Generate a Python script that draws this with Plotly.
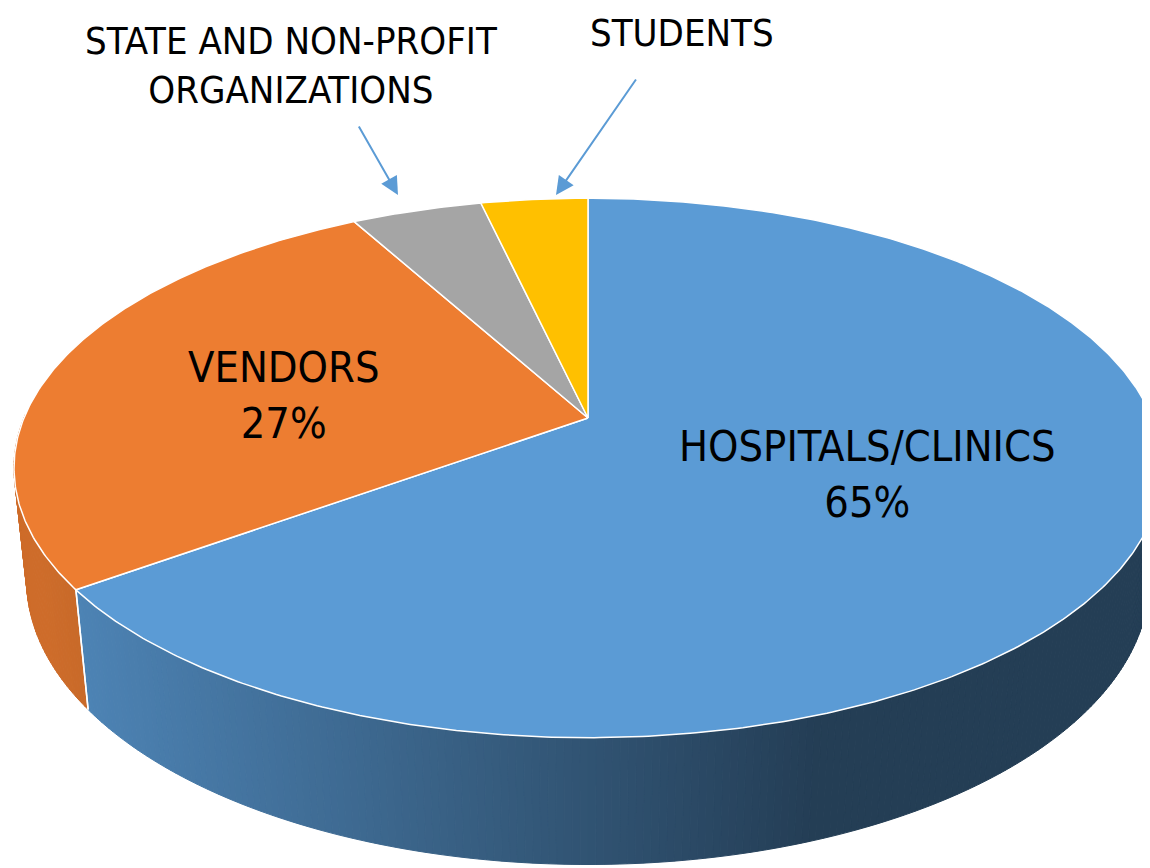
import numpy as np
import plotly.graph_objects as go

# ---------------- data ----------------
categories = ["HOSPITALS/CLINICS", "VENDORS", "STATE AND NON-PROFIT ORGANIZATIONS", "STUDENTS"]
values = [65.0, 27.0, 4.4, 3.6]
top_colors = ["#5b9bd5", "#ed7d31", "#a5a5a5", "#ffc000"]

# ---------------- view / styling ----------------
W, H = 1150, 868
OFF = 8                         # page body margin of the browser
CX, CY = 588.0, 418.0           # screen position of pie centre
TILT = np.radians(27.5)         # camera elevation
DIST = 4.79                     # camera distance (pie radius = 1)
SCALE = 2702.0
THICK = 0.226                   # pie thickness (pie radius = 1)
FONT = "Liberation Sans Narrow, Arial Narrow, DejaVu Sans Condensed, Lato, sans-serif"


def project(X, Y, Z):
    c, s = np.cos(TILT), np.sin(TILT)
    py = Y + DIST * c
    pz = Z - DIST * s
    depth = py * c - pz * s
    up = py * s + pz * c
    return CX + SCALE * X / depth, CY - SCALE * up / depth, depth


def hex_rgb(h):
    h = h.lstrip("#")
    return tuple(int(h[i:i + 2], 16) for i in (0, 2, 4))


def shade(color, sx):
    f0, f1 = 0.87, 0.40
    t = np.clip((sx - 40.0) / (820.0 - 40.0), 0, 1)
    f = f0 + (f1 - f0) * t
    r, g, b = hex_rgb(color)
    return f"rgb({int(r * f)},{int(g * f)},{int(b * f)})"


fig = go.Figure()

# slice angle ranges (start at 12 o'clock, clockwise)
ranges = []
cum = 0.0
total = sum(values)
for v in values:
    t0 = 90.0 - cum / total * 360.0
    t1 = t0 - v / total * 360.0
    ranges.append((t0, t1))
    cum += v

# ---------------- side wall ----------------
quads = []
for (t0, t1), col in zip(ranges, top_colors):
    n = max(2, int(abs(t0 - t1) * 1.5))
    ts = np.linspace(t0, t1, n + 1)
    for a, b in zip(ts[:-1], ts[1:]):
        m = np.radians((a + b) / 2)
        if np.sin(m) >= 0.02:
            continue
        ra, rb = np.radians(a), np.radians(b)
        xa, ya, da = project(np.cos(ra), np.sin(ra), 0)
        xb, yb, db = project(np.cos(rb), np.sin(rb), 0)
        xbb, ybb, _ = project(np.cos(rb), np.sin(rb), -THICK)
        xab, yab, _ = project(np.cos(ra), np.sin(ra), -THICK)
        quads.append(((da + db) / 2, [xa, xb, xbb, xab, xa], [ya, yb, ybb, yab, ya],
                      shade(col, (xa + xb) / 2)))

quads.sort(key=lambda q: -q[0])
for _, xs, ys, c in quads:
    fig.add_trace(go.Scatter(x=xs, y=ys, mode="lines", fill="toself", fillcolor=c,
                             line=dict(color=c, width=1), hoverinfo="skip", showlegend=False))

# white vertical edges at visible slice boundaries
for t0, t1 in ranges:
    for t in (t0, t1):
        r = np.radians(t)
        if np.sin(r) < -0.3:
            x0, y0, _ = project(np.cos(r), np.sin(r), 0)
            x1, y1, _ = project(np.cos(r), np.sin(r), -THICK)
            fig.add_trace(go.Scatter(x=[x0, x1], y=[y0, y1], mode="lines",
                                     line=dict(color="white", width=1.5),
                                     hoverinfo="skip", showlegend=False))

# ---------------- top face ----------------
for (t0, t1), col, cat, v in zip(ranges, top_colors, categories, values):
    n = max(8, int(abs(t0 - t1) * 2))
    ts = np.radians(np.linspace(t0, t1, n + 1))
    px, py, _ = project(np.cos(ts), np.sin(ts), 0 * ts)
    ox, oy, _ = project(0.0, 0.0, 0.0)
    xs = np.concatenate([[ox], px, [ox]])
    ys = np.concatenate([[oy], py, [oy]])
    fig.add_trace(go.Scatter(x=xs, y=ys, mode="lines", fill="toself", fillcolor=col,
                             line=dict(color="white", width=1.5),
                             name=cat, hoveron="fills",
                             text=f"{cat}: {v:g}%", hoverinfo="text", showlegend=False))

# ---------------- labels ----------------
annotations = [
    dict(x=867, y=474, text="HOSPITALS/CLINICS<br>65%", size=43),
    dict(x=284, y=395, text="VENDORS<br>27%", size=43),
    dict(x=291, y=65, text="STATE AND NON-PROFIT<br>ORGANIZATIONS", size=38),
    dict(x=682, y=33, text="STUDENTS", size=38),
]
anns = []
for a in annotations:
    anns.append(dict(x=a["x"], y=a["y"], xref="x", yref="y", text=a["text"], showarrow=False,
                     xanchor="center", yanchor="middle", align="center",
                     font=dict(family=FONT, color="black", size=a["size"])))

arrows = [((358, 125), (398, 195)), ((637, 78), (556, 195))]
for (sx, sy), (ex, ey) in arrows:
    anns.append(dict(x=ex, y=ey, ax=sx, ay=sy, xref="x", yref="y", axref="x", ayref="y",
                     text="", showarrow=True, arrowhead=2, arrowsize=1.8, arrowwidth=2,
                     arrowcolor="#5b9bd5", standoff=0))

fig.update_layout(
    width=W, height=H,
    margin=dict(l=0, r=0, t=0, b=0),
    paper_bgcolor="white", plot_bgcolor="white",
    xaxis=dict(range=[OFF, W + OFF], visible=False, fixedrange=True),
    yaxis=dict(range=[H + OFF, OFF], visible=False, fixedrange=True),
    annotations=anns,
    showlegend=False,
)

fig.write_html("out.html")
